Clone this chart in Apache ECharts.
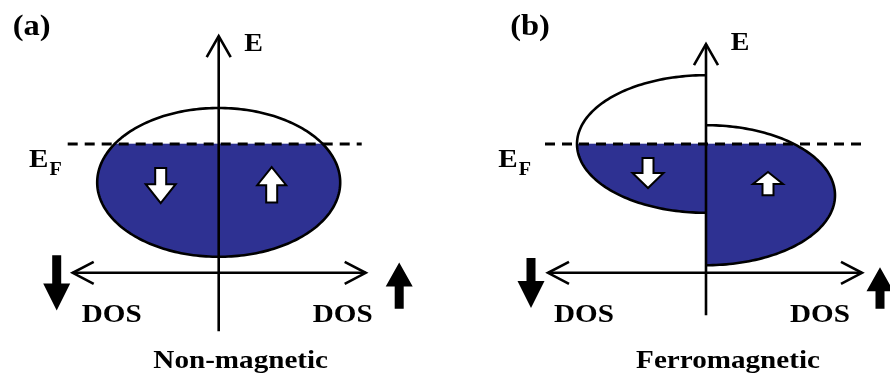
<!DOCTYPE html>
<html>
<head>
<meta charset="utf-8">
<script src="https://cdn.jsdelivr.net/npm/echarts@6/dist/echarts.min.js"></script>
<style>
  html, body { margin: 0; padding: 0; background: #fff; }
  #chart { width: 890px; height: 379px; }
</style>
</head>
<body>
<div id="chart"></div>
<script>
// Spin-resolved density of states sketch. Each spin channel is a half-ellipse
// band: spin down drawn to the left of the energy axis, spin up to the right.
const spinChannels = ['down', 'up'];
const panelTags = ['(a)', '(b)'];
const panelTitles = ['Non-magnetic', 'Ferromagnetic'];
const energyLabel = 'E';
const dosLabel = 'DOS';
const fermiLabel = ['E', 'F'];
const fermiLevel = 0;

// Band centre energy, half height in E and peak DOS for [spin down, spin up]
const bandCentreA = [-0.48, -0.48];
const bandHalfHeightA = [0.93, 0.93];
const bandPeakDosA = [1.215, 1.215];

const bandCentreB = [0.0, -0.64];
const bandHalfHeightB = [0.86, 0.875];
const bandPeakDosB = [1.29, 1.29];

const OCCUPIED = '#2E3192';
const FONT = '"Liberation Serif", "Times New Roman", serif';
const STRETCH = 1.12;

function bandRows(centre, halfHeight, peak) {
  return spinChannels.map((s, i) => [i, centre[i], halfHeight[i], peak[i]]);
}

// keep the part of a closed polygon lying at or below the given energy
function clipBelow(pts, level) {
  const out = [];
  for (let i = 0; i < pts.length; i++) {
    const a = pts[i], b = pts[(i + 1) % pts.length];
    const ina = a[1] <= level, inb = b[1] <= level;
    if (ina) out.push(a);
    if (ina !== inb) {
      const t = (level - a[1]) / (b[1] - a[1]);
      out.push([a[0] + t * (b[0] - a[0]), level]);
    }
  }
  return out;
}

function renderBand(params, api) {
  const side = api.value(0) === 0 ? -1 : 1;
  const centre = api.value(1), ry = api.value(2), rx = api.value(3);
  const arc = [];
  const n = 120;
  for (let i = 0; i <= n; i++) {
    const t = -Math.PI / 2 + Math.PI * i / n;
    arc.push([side * rx * Math.cos(t), centre + ry * Math.sin(t)]);
  }
  const filled = clipBelow(arc, fermiLevel);
  return {
    type: 'group',
    children: [
      { type: 'polygon', shape: { points: filled.map(p => api.coord(p)) },
        style: { fill: OCCUPIED, stroke: OCCUPIED, lineWidth: 0.6 }, z2: 1 },
      { type: 'polyline', shape: { points: arc.map(p => api.coord(p)) },
        style: { stroke: '#000', lineWidth: 2.6, fill: null }, z2: 2 }
    ]
  };
}

// panel furniture, in each panel's (DOS, E) units
const layoutA = {
  eAxis: [1.36, -2.34], dosAxisE: -1.61, dosAxis: [-1.47, 1.48], fermiSpan: [-1.51, 1.43],
  spinMarks: [
    { x: -0.58, tail: -0.30, tip: -0.74, shaft: 11, head: 30, headLen: 19 },
    { x: 0.53, tail: -0.73, tip: -0.29, shaft: 11, head: 29, headLen: 18 }
  ],
  channelArrows: [
    { x: -1.62, tail: -1.39, tip: -2.08, shaft: 9, head: 27, headLen: 27 },
    { x: 1.805, tail: -2.06, tip: -1.48, shaft: 9, head: 27, headLen: 24 }
  ],
  eLabel: [0.35, 1.24], fermiText: [-1.80, -0.20],
  dosLeft: [-1.07, -2.14], dosRight: [1.24, -2.14],
  title: [0.22, -2.71], tag: [-1.87, 1.45]
};
const layoutB = {
  eAxis: [1.26, -2.14], dosAxisE: -1.61, dosAxis: [-1.59, 1.57], fermiSpan: [-1.61, 1.61],
  spinMarks: [
    { x: -0.58, tail: -0.175, tip: -0.55, shaft: 11, head: 31, headLen: 15 },
    { x: 0.62, tail: -0.64, tip: -0.35, shaft: 11, head: 30, headLen: 12 }
  ],
  channelArrows: [
    { x: -1.75, tail: -1.425, tip: -2.05, shaft: 9, head: 27, headLen: 27 },
    { x: 1.74, tail: -2.06, tip: -1.54, shaft: 9, head: 27, headLen: 24 }
  ],
  eLabel: [0.34, 1.25], fermiText: [-1.98, -0.20],
  dosLeft: [-1.22, -2.14], dosRight: [1.14, -2.14],
  title: [0.22, -2.71], tag: [-1.76, 1.45]
};

function arrowPolygon(p0, p1, shaft, head, headLen) {
  // vertical block arrow from tail p0 to tip p1 (pixels)
  const dir = p1[1] > p0[1] ? 1 : -1;
  const x = p0[0];
  const baseY = p1[1] - dir * headLen;
  return [
    [x - shaft / 2, p0[1]], [x + shaft / 2, p0[1]],
    [x + shaft / 2, baseY], [x + head / 2, baseY],
    [x, p1[1]],
    [x - head / 2, baseY], [x - shaft / 2, baseY]
  ];
}

function label(text, pos, size) {
  return {
    type: 'text', x: pos[0], y: pos[1], scaleX: STRETCH, scaleY: 1,
    style: { text: text, x: 0, y: 0, fill: '#000', align: 'center', verticalAlign: 'middle',
             font: 'bold ' + size + 'px ' + FONT }
  };
}

function makeFurniture(L, panel) {
  return function (params, api) {
    const c = p => api.coord(p);
    const kids = [];
    // Fermi level
    const fa = c([L.fermiSpan[0], fermiLevel]), fb = c([L.fermiSpan[1], fermiLevel]);
    kids.push({ type: 'line', shape: { x1: fa[0], y1: fa[1], x2: fb[0], y2: fb[1] },
      style: { stroke: '#000', lineWidth: 3, lineDash: [10, 7] }, z2: 1 });
    // energy axis with open arrow head
    const top = c([0, L.eAxis[0]]), bot = c([0, L.eAxis[1]]);
    kids.push({ type: 'line', shape: { x1: top[0], y1: top[1] + 1, x2: bot[0], y2: bot[1] },
      style: { stroke: '#000', lineWidth: 2.6 }, z2: 3 });
    kids.push({ type: 'polyline', shape: { points: [[top[0] - 12, top[1] + 22], [top[0], top[1] + 1], [top[0] + 12, top[1] + 22]] },
      style: { stroke: '#000', lineWidth: 2.6, fill: null }, z2: 3 });
    // DOS axis, double headed
    const l = c([L.dosAxis[0], L.dosAxisE]), r = c([L.dosAxis[1], L.dosAxisE]);
    kids.push({ type: 'line', shape: { x1: l[0] + 1, y1: l[1], x2: r[0] - 1, y2: r[1] },
      style: { stroke: '#000', lineWidth: 2.6 }, z2: 3 });
    kids.push({ type: 'polyline', shape: { points: [[l[0] + 22, l[1] - 11], [l[0] + 1, l[1]], [l[0] + 22, l[1] + 11]] },
      style: { stroke: '#000', lineWidth: 2.6, fill: null }, z2: 3 });
    kids.push({ type: 'polyline', shape: { points: [[r[0] - 22, r[1] - 11], [r[0] - 1, r[1]], [r[0] - 22, r[1] + 11]] },
      style: { stroke: '#000', lineWidth: 2.6, fill: null }, z2: 3 });
    // spin markers inside the bands
    L.spinMarks.forEach(m => {
      kids.push({ type: 'polygon',
        shape: { points: arrowPolygon(c([m.x, m.tail]), c([m.x, m.tip]), m.shaft, m.head, m.headLen) },
        style: { fill: '#fff', stroke: '#000', lineWidth: 2, lineJoin: 'miter' }, z2: 4 });
    });
    // spin channel arrows beside the DOS axis
    L.channelArrows.forEach(m => {
      kids.push({ type: 'polygon',
        shape: { points: arrowPolygon(c([m.x, m.tail]), c([m.x, m.tip]), m.shaft, m.head, m.headLen) },
        style: { fill: '#000' }, z2: 4 });
    });
    // text
    kids.push(label(energyLabel, c(L.eLabel), 25));
    const ef = c(L.fermiText);
    kids.push(label(fermiLabel[0], ef, 26));
    kids.push(label(fermiLabel[1], [ef[0] + 17, ef[1] + 10], 18));
    kids.push(label(dosLabel, c(L.dosLeft), 26));
    kids.push(label(dosLabel, c(L.dosRight), 26));
    kids.push(label(panelTitles[panel], c(L.title), 26));
    kids.push(label(panelTags[panel], c(L.tag), 29));
    return { type: 'group', children: kids };
  };
}

const chart = echarts.init(document.getElementById('chart'), null, { renderer: 'canvas' });
chart.setOption({
  animation: false,
  backgroundColor: '#fff',
  grid: [
    { left: 38.7, top: 24, width: 360, height: 320 },
    { left: 526, top: 24, width: 360, height: 320 }
  ],
  xAxis: [
    { gridIndex: 0, type: 'value', min: -1.8, max: 1.8, show: false },
    { gridIndex: 1, type: 'value', min: -1.8, max: 1.8, show: false }
  ],
  yAxis: [
    { gridIndex: 0, type: 'value', min: -2.5, max: 1.5, show: false },
    { gridIndex: 1, type: 'value', min: -2.5, max: 1.5, show: false }
  ],
  series: [
    { type: 'custom', name: 'bands (a)', xAxisIndex: 0, yAxisIndex: 0, clip: false, z: 2,
      data: bandRows(bandCentreA, bandHalfHeightA, bandPeakDosA), renderItem: renderBand },
    { type: 'custom', name: 'bands (b)', xAxisIndex: 1, yAxisIndex: 1, clip: false, z: 2,
      data: bandRows(bandCentreB, bandHalfHeightB, bandPeakDosB), renderItem: renderBand },
    { type: 'custom', name: 'frame (a)', xAxisIndex: 0, yAxisIndex: 0, clip: false, z: 3,
      data: [[0]], renderItem: makeFurniture(layoutA, 0) },
    { type: 'custom', name: 'frame (b)', xAxisIndex: 1, yAxisIndex: 1, clip: false, z: 3,
      data: [[0]], renderItem: makeFurniture(layoutB, 1) }
  ]
});
</script>
</body>
</html>
